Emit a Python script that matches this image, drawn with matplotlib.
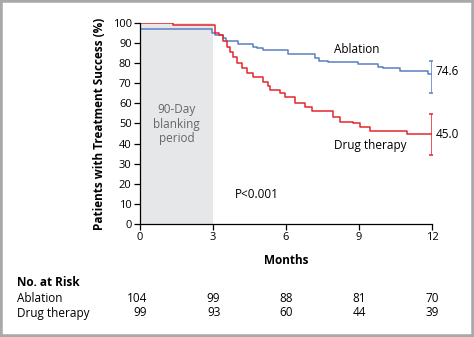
import matplotlib
matplotlib.use("Agg")
import matplotlib.pyplot as plt
from matplotlib.patches import Rectangle
import matplotlib.transforms as mtransforms

plt.rcParams['font.family'] = ['Open Sans', 'DejaVu Sans']

# Data
abl_t = [0, 2.95, 3.1, 3.4, 3.55, 4.04, 4.66, 4.8, 5.07, 6.1, 7.2, 7.35, 7.74, 8.97, 9.8, 10.0, 10.7, 11.85, 12]
abl_s = [97.0, 95.2, 94.0, 92.5, 90.9, 89.6, 88.2, 87.4, 86.5, 84.6, 82.4, 81.2, 80.4, 79.6, 78.0, 77.5, 76.3, 74.6, 74.6]
drug_t = [0, 1.35, 3.08, 3.25, 3.4, 3.56, 3.7, 3.84, 3.97, 4.18, 4.38, 4.66, 5.07, 5.25, 5.34, 5.75, 5.96,
          6.37, 6.78, 7.05, 7.94, 8.22, 8.77, 9.04, 9.45, 10.96, 12]
drug_s = [100.0, 99.0, 95.0, 94.2, 90.8, 88.3, 85.8, 83.3, 80.0, 77.5, 75.0, 73.3, 70.8, 68.5, 66.7, 65.0, 63.3,
          60.0, 58.3, 56.3, 53.3, 50.8, 50.0, 48.3, 46.3, 45.0, 45.0]
abl_end, abl_ci = 74.6, (65.0, 81.0)
drug_end, drug_ci = 45.0, (34.5, 54.5)
x_ticks = [0, 3, 6, 9, 12]
y_ticks = list(range(0, 101, 10))
risk_groups = ["Ablation", "Drug therapy"]
risk_abl = [104, 99, 88, 81, 70]
risk_drug = [99, 93, 60, 44, 39]

BLUE = "#5b7fc4"
RED = "#e3262b"

fig = plt.figure(figsize=(4.74, 3.37), dpi=100)
ax = fig.add_axes([140/474, 1 - 224/337, (432-140)/474, (224-23)/337])

ax.axvspan(0, 3, ymin=0, ymax=1, color="#e6e7e9", lw=0, zorder=0)
ax.step(abl_t, abl_s, where="post", color=BLUE, lw=1.1, zorder=3)
ax.step(drug_t, drug_s, where="post", color=RED, lw=1.1, zorder=3)
ax.errorbar([12], [abl_end], yerr=[[abl_end - abl_ci[0]], [abl_ci[1] - abl_end]],
            color=BLUE, lw=1.1, capsize=2.5, capthick=1.1, fmt="none", zorder=4)
ax.errorbar([12], [drug_end], yerr=[[drug_end - drug_ci[0]], [drug_ci[1] - drug_end]],
            color=RED, lw=1.1, capsize=2.5, capthick=1.1, fmt="none", zorder=4)

ax.set_xlim(0, 12)
ax.set_ylim(0, 100)
ax.set_xticks(x_ticks)
ax.set_yticks(y_ticks)
ax.tick_params(axis="both", direction="out", length=4, width=0.9, labelsize=8, pad=2, color="black")
for s in ["top", "right"]:
    ax.spines[s].set_visible(False)
for s in ["left", "bottom"]:
    ax.spines[s].set_linewidth(0.9)
ax.spines["left"].set_zorder(5)

ax.set_ylabel("Patients with Treatment Success (%)", fontsize=8.5, fontweight="bold", labelpad=5)
ax.set_xlabel("Months", fontsize=8.5, fontweight="bold", labelpad=8)

ax.text(1.5, 49.6, "90-Day\nblanking\nperiod", ha="center", va="center", fontsize=8.5,
        color="#666666", linespacing=1.15)
ax.text(3.9, 14.5, "P<0.001", ha="left", va="center", fontsize=8.5)
ax.text(8.9, 86.7, "Ablation", ha="center", va="center", fontsize=8.5)
ax.text(9.45, 39.0, "Drug therapy", ha="center", va="center", fontsize=8.5)
ax.text(12.15, 75.8, f"{abl_end:.1f}", ha="left", va="center", fontsize=8.5)
ax.text(12.15, 44.6, f"{drug_end:.1f}", ha="left", va="center", fontsize=8.5)

# Risk table
trans = mtransforms.blended_transform_factory(ax.transData, fig.transFigure)
fig.text(17/474, 1 - 283/337, "No. at Risk", fontsize=8.5, fontweight="bold", ha="left", va="center")
for row, (name, vals) in enumerate(zip(risk_groups, [risk_abl, risk_drug])):
    yy = 1 - (298 + 15*row)/337
    fig.text(17/474, yy, name, fontsize=8.5, ha="left", va="center")
    for xt, v in zip(x_ticks, vals):
        ax.text(xt + 0.3, yy, str(v), transform=trans, fontsize=8.5, ha="right", va="center", clip_on=False)

# Frame
fig.patches.append(Rectangle((0, 0), 1, 1, transform=fig.transFigure, fill=False,
                             edgecolor="#a9a9a9", lw=4, zorder=10))

fig.savefig("out.png", dpi=100)
